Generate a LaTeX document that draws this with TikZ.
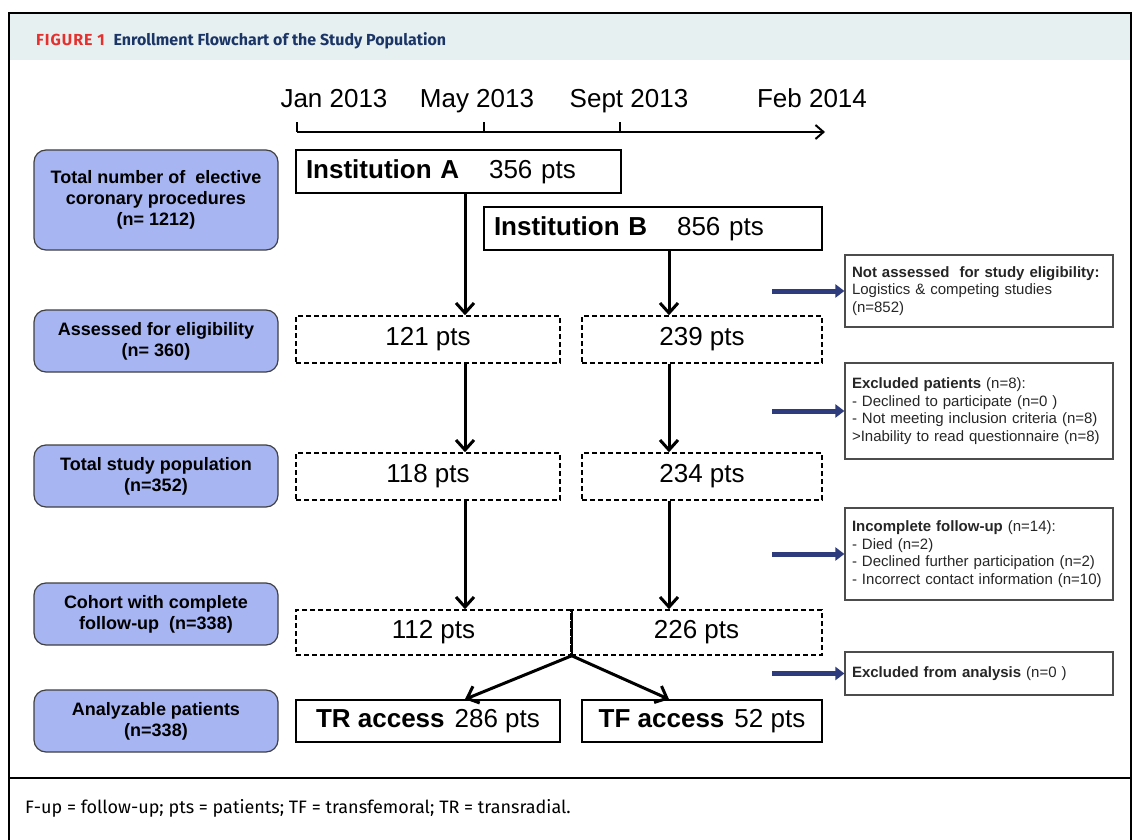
\documentclass[tikz,border=0pt]{standalone}
\usepackage{fontspec}
\setmainfont{Liberation Sans}
\newfontfamily\capfont{Fira Sans}
\usetikzlibrary{arrows.meta,positioning,calc}
\definecolor{boxblue}{RGB}{167,181,242}
\definecolor{arrownavy}{RGB}{46,60,126}
\definecolor{bandgray}{RGB}{231,240,240}
\definecolor{figred}{RGB}{228,49,47}
\definecolor{titlenavy}{RGB}{27,53,102}
\newcommand{\bigtxt}{\fontsize{26}{30}\selectfont}
\newcommand{\midtxt}{\fontsize{18}{21}\selectfont}
\newcommand{\smalltxt}{\fontsize{15}{17.5}\selectfont}
\tikzset{
    bluesty/.style={draw=black!75,fill=boxblue,rounded corners=12pt,line width=1.2pt,minimum width=244pt,minimum height=62pt,align=center,font=\bfseries\midtxt},
    inststy/.style={draw,line width=1.5pt,minimum height=43pt,inner xsep=10pt,font=\bigtxt},
    dashsty/.style={draw,dash pattern=on 5pt off 3pt,line width=1.5pt,minimum height=47pt,font=\bigtxt},
    notesty/.style={draw=black!70,line width=1.2pt,text width=254pt,inner xsep=7pt,align=left,font=\smalltxt,text=black!85},
    datesty/.style={font=\bigtxt,anchor=base,inner sep=0pt},
    flowsty/.style={line width=3pt,-{Straight Barb[length=10pt,width=18pt]}},
    sidesty/.style={line width=5pt,draw=arrownavy,-{Triangle[length=9pt,width=13pt]}},
}

\begin{document}
\begin{tikzpicture}[x=1pt,y=-1pt]
  \useasboundingbox (0,0) rectangle (1144,840);
  \fill[bandgray] (9,13) rectangle (1131,60);
  \draw[line width=2pt] (9,840) -- (9,13) -- (1131,13) -- (1131,840);
  \draw[line width=1.5pt] (9,778) -- (1131,778);
  \node[anchor=base west,inner sep=0pt,font=\capfont\bfseries\fontsize{16}{18}\selectfont] (head) at (36,46)
    {\textcolor{figred}{\addfontfeature{LetterSpace=6}FIGURE 1}\hspace{9pt}\textcolor{titlenavy}{Enrollment Flowchart of the Study Population}};

  \draw[line width=2pt,-{Straight Barb[length=8pt,width=14pt]}] (297,132) -- (825,132);
  \foreach \x in {297,484,620} \draw[line width=2pt] (\x,132) -- (\x,122);
  \foreach \x/\nm/\txt in {334/jan/Jan 2013,477/may/May 2013,629/sep/Sept 2013,812/feb/Feb 2014}
    \node[datesty] (\nm) at (\x,108) {\txt};

  \node[bluesty,minimum height=100pt] (tot) at (156,200) {Total number of \ elective\\coronary procedures\\(n= 1212)};
  \node[bluesty] (ass) at (156,341) {Assessed for eligibility\\(n= 360)};
  \node[bluesty] (pop) at (156,476) {Total study population\\(n=352)};
  \node[bluesty] (coh) at (156,614) {Cohort with complete\\follow-up \ (n=338)};
  \node[bluesty] (ana) at (156,721) {Analyzable patients\\(n=338)};

  \node[inststy,text width=305pt,align=left] (instA) at (458.5,171.5) {\textbf{Institution A}\hspace{30pt}356 pts};
  \node[inststy,text width=318pt,align=left] (instB) at (653,228.5) {\textbf{Institution B}\hspace{30pt}856 pts};

  \node[dashsty,minimum width=264pt] (a121) at (428,339.5) {121 pts};
  \node[dashsty,minimum width=240pt] (b239) at (702,339.5) {239 pts};
  \node[dashsty,minimum width=264pt] (a118) at (428,476.5) {118 pts};
  \node[dashsty,minimum width=240pt] (b234) at (702,476.5) {234 pts};
  \node[dashsty,minimum width=275pt,minimum height=45pt] (a112) at (433.5,632.5) {112 pts};
  \node[dashsty,minimum width=251pt,minimum height=45pt] (b226) at (696.5,632.5) {226 pts};

  \node[inststy,minimum width=264pt,minimum height=42pt] (tr) at (428,721) {\textbf{TR access}\hspace{10pt}286 pts};
  \node[inststy,minimum width=240pt,minimum height=42pt] (tf) at (702,721) {\textbf{TF access}\hspace{10pt}52 pts};

  \node[notesty,minimum height=72pt] (nass) at (979,291) {\textbf{Not assessed \ for study eligibility:}\\Logistics \& competing studies\\(n=852)};
  \node[notesty,minimum height=96pt] (excl) at (979,411) {\textbf{Excluded patients} (n=8):\\- Declined to participate (n=0 )\\- Not meeting inclusion criteria (n=8)\\>Inability to read questionnaire (n=8)};
  \node[notesty,minimum height=92pt] (inc) at (979,554) {\textbf{Incomplete follow-up} (n=14):\\- Died (n=2)\\- Declined further participation (n=2)\\- Incorrect contact information (n=10)};
  \node[notesty,minimum height=43pt] (exan) at (979,673.5) {\textbf{Excluded from analysis} (n=0 )};

  \coordinate (colA) at (465,0);
  \coordinate (colB) at (669,0);
  \draw[flowsty] (instA.south -| colA) -- (a121.north -| colA);
  \draw[flowsty] (instB.south -| colB) -- (b239.north -| colB);
  \draw[flowsty] (a121.south -| colA) -- (a118.north -| colA);
  \draw[flowsty] (b239.south -| colB) -- (b234.north -| colB);
  \draw[flowsty] (a118.south -| colA) -- (a112.north -| colA);
  \draw[flowsty] (b234.south -| colB) -- (b226.north -| colB);
  \draw[line width=2pt] (a112.north east) -- (a112.south east);
  \draw[flowsty] (a112.south east) -- (tr.north -| colA);
  \draw[flowsty] (a112.south east) -- (tf.north -| colB);

  \coordinate[left=72pt of nass.west] (pnass);
  \coordinate[left=72pt of excl.west] (pexcl);
  \coordinate[left=72pt of inc.west] (pinc);
  \coordinate[left=72pt of exan.west] (pexan);
  \draw[sidesty] (pnass) -- (nass.west);
  \draw[sidesty] (pexcl) -- (excl.west);
  \draw[sidesty] (pinc) -- (inc.west);
  \draw[sidesty] (pexan) -- (exan.west);

  \node[anchor=base west,inner sep=0pt,font=\capfont\fontsize{18}{21}\selectfont] (foot) at (25,813)
    {F-up = follow-up; pts = patients; TF = transfemoral; TR = transradial.};
\end{tikzpicture}
\end{document}
